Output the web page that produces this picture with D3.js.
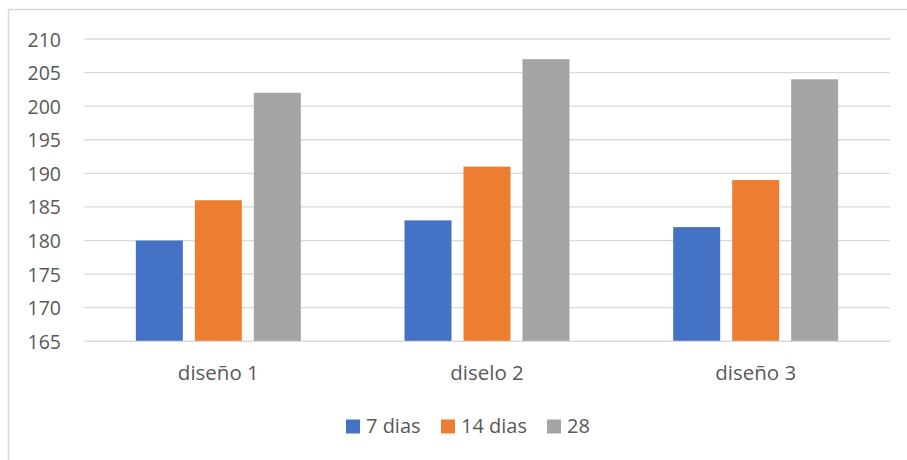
<!DOCTYPE html>
<html>
<head>
<meta charset="utf-8">
<script src="https://cdn.jsdelivr.net/npm/d3@7"></script>
<style>
  html, body { margin: 0; padding: 0; background: #fff; }
  svg { display: block; }
  text { font-family: "Open Sans", "Noto Sans", sans-serif; fill: #595959; }
</style>
</head>
<body>
<svg id="chart" width="907" height="460"></svg>
<script>
// Chart data
const categories = ["diseño 1", "diselo 2", "diseño 3"];
const seriesNames = ["7 dias", "14 dias", "28"];
const dias7 = [180, 183, 182];
const dias14 = [186, 191, 189];
const dias28 = [202, 207, 204];
const yTicks = [165, 170, 175, 180, 185, 190, 195, 200, 205, 210];
const colors = ["#4472C4", "#ED7D31", "#A5A5A5"];

const seriesValues = [dias7, dias14, dias28];

const svg = d3.select("#chart");

// Outer chart-area frame
svg.append("rect")
  .attr("x", 8.5).attr("y", 9.5)
  .attr("width", 1000).attr("height", 1000)
  .attr("fill", "none")
  .attr("stroke", "#D9D9D9")
  .attr("stroke-width", 1.5);

const plot = { left: 84, right: 890, top: 39, bottom: 341.3 };

const y = d3.scaleLinear().domain([165, 210]).range([plot.bottom, plot.top]);

const x0 = d3.scaleBand().domain(categories).range([plot.left, plot.right]).paddingInner(0).paddingOuter(0);
const groupWidth = x0.bandwidth() * 0.614;
const groupOffset = (x0.bandwidth() - groupWidth) / 2;
const x1 = d3.scaleBand().domain(seriesNames).range([groupOffset, groupOffset + groupWidth]).paddingInner(0.2034).paddingOuter(0);

// Gridlines
svg.append("g")
  .selectAll("line")
  .data(yTicks)
  .join("line")
  .attr("x1", plot.left).attr("x2", plot.right)
  .attr("y1", d => y(d)).attr("y2", d => y(d))
  .attr("stroke", "#D9D9D9")
  .attr("stroke-width", 1.3);

// Y axis labels
const yAxis = d3.axisLeft(y).tickValues(yTicks).tickSize(0).tickPadding(0);
const yg = svg.append("g")
  .attr("transform", `translate(61,0)`)
  .call(yAxis);
yg.select(".domain").remove();
yg.selectAll("text")
  .attr("font-size", "19.5px")
  .attr("fill", "#595959")
  .attr("dy", "0.36em")
  .style("font-family", '"Open Sans", "Noto Sans", sans-serif');

// Bars
const rows = categories.map((c, i) => ({ cat: c, vals: seriesNames.map((s, j) => ({ s, j, v: seriesValues[j][i] })) }));
svg.append("g")
  .selectAll("g")
  .data(rows)
  .join("g")
  .attr("transform", d => `translate(${x0(d.cat)},0)`)
  .selectAll("rect")
  .data(d => d.vals)
  .join("rect")
  .attr("x", d => x1(d.s))
  .attr("width", x1.bandwidth())
  .attr("y", d => y(d.v))
  .attr("height", d => y(165) - y(d.v))
  .attr("fill", d => colors[d.j]);

// X axis line
svg.append("line")
  .attr("x1", plot.left).attr("x2", plot.right)
  .attr("y1", y(165)).attr("y2", y(165))
  .attr("stroke", "#D9D9D9")
  .attr("stroke-width", 1.3);

// Category labels
const xAxis = d3.axisBottom(x0).tickSize(0).tickPadding(0);
const xg = svg.append("g")
  .attr("transform", `translate(0,380)`)
  .call(xAxis);
xg.select(".domain").remove();
xg.selectAll("text")
  .attr("y", 0).attr("dy", 0)
  .attr("font-size", "20.5px")
  .attr("fill", "#595959")
  .style("font-family", '"Open Sans", "Noto Sans", sans-serif');

// Legend
const legendX = [346, 441, 547];
const legend = svg.append("g");
seriesNames.forEach((s, i) => {
  legend.append("rect")
    .attr("x", legendX[i]).attr("y", 419.5)
    .attr("width", 14).attr("height", 14)
    .attr("fill", colors[i]);
  legend.append("text")
    .attr("x", legendX[i] + 20).attr("y", 433)
    .attr("font-size", "20px")
    .text(s);
});
</script>
</body>
</html>
